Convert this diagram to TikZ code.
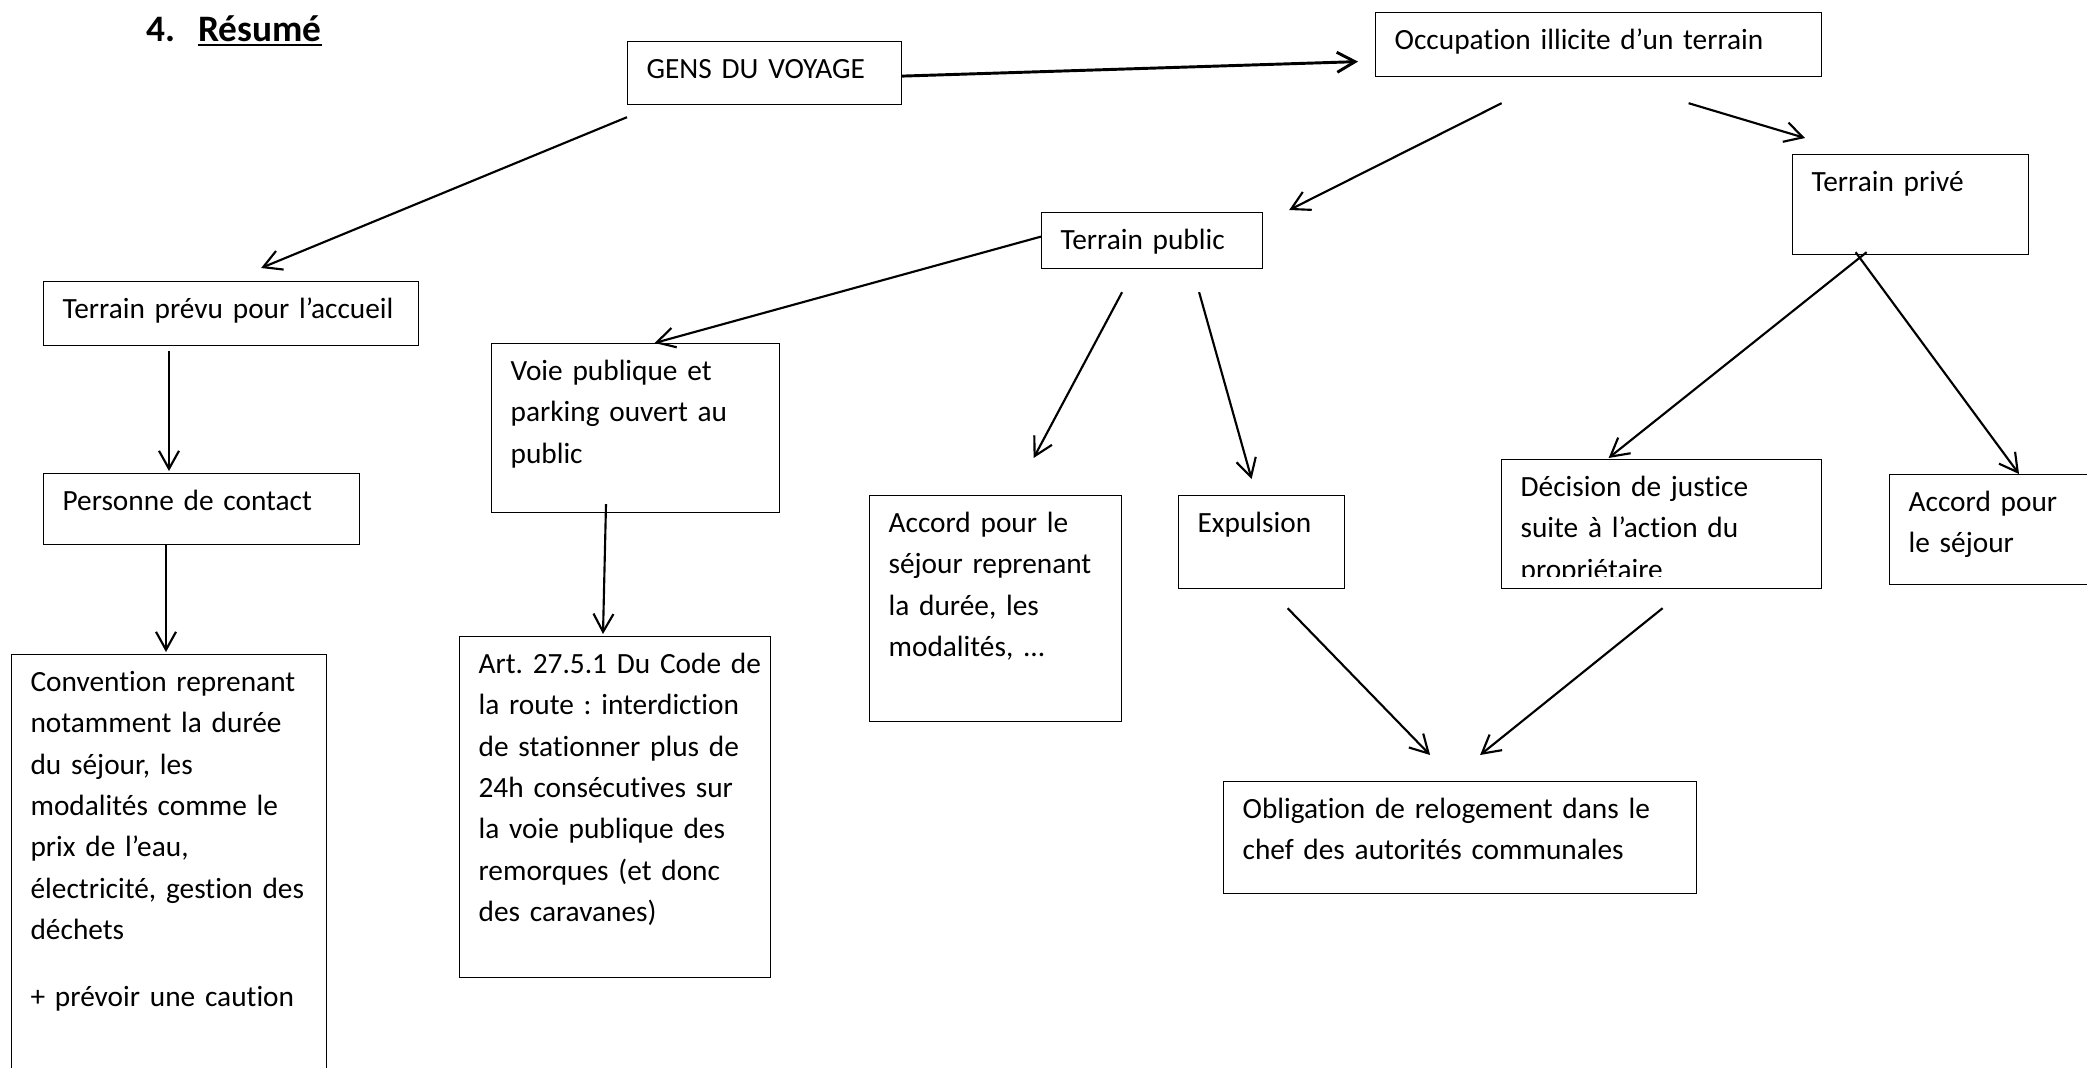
\documentclass[tikz,border=0pt]{standalone}
\usepackage{fontspec}
\setmainfont{Carlito}[Ligatures=NoCommon]
\usetikzlibrary{calc,arrows.meta,positioning}
\newdimen\px \px=0.375pt
\frenchspacing
\begin{document}
\begin{tikzpicture}[x=0.375pt,y=-0.375pt,
    box/.style={draw, line width=0.45pt, anchor=north west, inner xsep=19\px, inner ysep=0pt,
        text height=37\px, font=\fontsize{11pt}{15.5pt}\selectfont},
    arr/.style={-{Straight Barb[length=6.75pt,width=7.5pt]}, line width=0.8pt}]
    \useasboundingbox (0,0) rectangle (2087,1067);

    \node[anchor=base west, inner sep=0pt, font=\fontsize{14pt}{17pt}\selectfont\bfseries] (title) at (146,41)
        {4.\hspace{8.6pt}\underline{Résumé}};

    \node[box, text width=236\px, text depth=26\px] (gens) at (627,41) {GENS DU VOYAGE};
    \node[box, text width=408\px, text depth=27\px] (occup) at (1375,12) {Occupation illicite d’un terrain};
    \node[box, text width=337\px, text depth=27\px] (prevu) at (43,281) {Terrain prévu pour l’accueil};
    \node[box, text width=183\px, text depth=19\px] (public) at (1041,212) {Terrain public};
    \node[box, text width=198\px, text depth=63\px] (prive) at (1792,154) {Terrain privé};
    \node[box, text width=250\px, text depth=132\px] (voie) at (491,343)
        {Voie publique et\\parking ouvert au\\public};
    \node[box, text width=278\px, text depth=34\px] (contact) at (43,473) {Personne de contact};
    \node[box, text width=277\px, text depth=430\px] (convention) at (11,654)
        {Convention reprenant\\notamment la durée\\du séjour, les\\modalités comme le\\prix de l’eau,\\électricité, gestion des\\déchets\\[9.5pt]+ prévoir une caution};
    \node[box, text width=273\px, text depth=304\px] (art) at (459,636)
        {\mbox{Art. 27.5.1 Du Code de}\\la route : interdiction\\de stationner plus de\\24h consécutives sur\\la voie publique des\\remorques (et donc\\des caravanes)};
    \node[box, text width=214\px, text depth=189\px] (accord) at (869,495)
        {Accord pour le\\séjour reprenant\\la durée, les\\modalités, ...};
    \node[box, text width=128\px, text depth=56\px] (expulsion) at (1178,495) {Expulsion};
    \node[box, text width=282\px, text depth=92\px] (decision) at (1501,459)
        {Décision de justice\\suite à l’action du\\propriétaire};
    \fill[white] ($(decision.south west)+(1,-12)$) rectangle ($(decision.south east)+(-1,-1)$);
    \node[box, text width=183\px, text depth=73\px] (accordprive) at (1889,474) {Accord pour\\le séjour};
    \node[box, text width=435\px, text depth=75\px] (relogement) at (1223,781)
        {Obligation de relogement dans le\\chef des autorités communales};

    \draw[arr, line width=1.1pt] ($(gens.east)+(0,3)$) -- ($(occup.west)+(-17,17)$);
    \draw[arr] ($(gens.south west)+(0,12)$) -- ($(prevu.north)+(30,-13)$);
    \draw[arr] ($(occup.south)+(-97,26)$) -- ($(public.north east)+(26,-2)$);
    \draw[arr] ($(occup.south)+(90,26)$) -- ($(prive.north west)+(13,-16)$);
    \draw[arr] ($(public.west)+(0,-4)$) -- ($(voie.north)+(19,0)$);
    \draw[arr] ($(public.south)+(-30,23)$) -- ($(accord.north)+(38,-37)$);
    \draw[arr] ($(public.south)+(47,23)$) -- ($(expulsion.north)+(-10,-16)$);
    \draw[arr] ($(prive.south)+(-44,-3)$) -- ($(decision.north)+(-53,-1)$);
    \draw[arr] ($(prive.south)+(-55,-3)$) -- ($(accordprive.north west)+(130,0)$);
    \draw[arr] ($(prevu.south west)+(126,5)$) -- ($(contact.north west)+(126,-2)$);
    \draw[arr] ($(contact.south west)+(123,0)$) -- ($(convention.north west)+(155,-2)$);
    \draw[arr] ($(voie.south west)+(115,-9)$) -- ($(art.north west)+(144,-2)$);
    \draw[arr] ($(expulsion.south)+(26,19)$) -- ($(relogement.north)+(-30,-26)$);
    \draw[arr] ($(decision.south)+(1,19)$) -- ($(relogement.north)+(20,-26)$);
\end{tikzpicture}
\end{document}
